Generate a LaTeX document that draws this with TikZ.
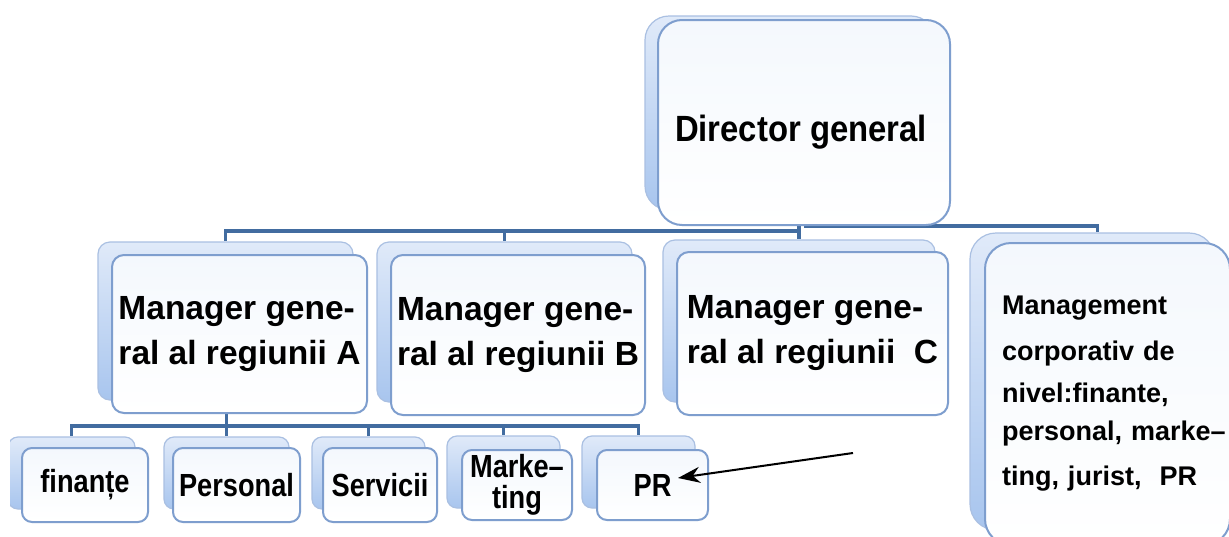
\documentclass[tikz,border=0pt]{standalone}
\usepackage{fontspec}
\setmainfont{Liberation Sans}
\newfontfamily\narrowf{Liberation Sans}[FakeStretch=0.85]
\newfontfamily\dirfont{Liberation Sans}[FakeStretch=0.9]
\usetikzlibrary{arrows.meta}
\definecolor{connc}{RGB}{66,108,160}
\definecolor{frontc}{RGB}{126,158,206}
\definecolor{backc}{RGB}{170,192,226}
\definecolor{backtop}{RGB}{224,234,249}
\definecolor{backbot}{RGB}{168,197,238}
\definecolor{fronttop}{RGB}{244,248,253}
\pgfdeclarelayer{canvas}
\pgfdeclarelayer{bg}
\pgfsetlayers{canvas,bg,main}
\tikzset{
  backbox/.style={draw=backc, line width=1.2pt, top color=backtop, bottom color=backbot, rounded corners=#1, inner sep=0pt},
  frontbox/.style={draw=frontc, line width=2pt, top color=fronttop, bottom color=white, rounded corners=#1, inner sep=0pt, text=black, align=center},
  mgr/.style={align=left, font=\bfseries\fontsize{33.5}{45}\selectfont},
  dept/.style={font=\narrowf\bfseries\fontsize{32}{31}\selectfont},
  conn/.style={draw=connc, line width=3.8pt},
  pointer/.style={draw=black, line width=2pt, -{Stealth[length=22pt,width=16pt]}}
}
\begin{document}
\begin{tikzpicture}[x=1pt,y=-1pt]
\useasboundingbox (0,0) rectangle (1229,536);
\begin{pgfonlayer}{canvas}
\fill[white] (0,0) rectangle (1229,536);
\end{pgfonlayer}
\clip (10,0) rectangle (1229,536);
% level 1
\node[backbox=24, minimum width=290pt, minimum height=194pt] (dirB) at (790,113) {};
\node[frontbox=24, minimum width=292pt, minimum height=205pt, font=\dirfont\bfseries\fontsize{36.5}{44}\selectfont] (dirF) at (804,122.5) {\raisebox{-19pt}[0pt][0pt]{Director general}\hspace{6pt}};
% level 2
\node[backbox=12, minimum width=255pt, minimum height=158pt] (Ab) at (225.5,321) {};
\node[frontbox=12, mgr, minimum width=255pt, minimum height=158pt] (Af) at (239.5,334) {Manager gene-\\ral al regiunii A};
\node[backbox=12, minimum width=255pt, minimum height=160pt] (Bb) at (504.5,322) {};
\node[frontbox=12, mgr, minimum width=254pt, minimum height=160pt] (Bf) at (518,335) {Manager gene-\\ral al regiunii B};
\node[backbox=12, minimum width=272pt, minimum height=162pt] (Cb) at (799,321) {};
\node[frontbox=12, mgr, minimum width=271pt, minimum height=163pt] (Cf) at (812.5,333.5) {Manager gene-\\ral al regiunii\ \ C};
\node[backbox=26, minimum width=245pt, minimum height=297pt] (Db) at (1092.5,381.5) {};
\node[frontbox=26, minimum width=245pt, minimum height=302pt, align=left, text width=211pt, font=\bfseries\fontsize{27}{42}\selectfont] (Df) at (1107.5,394) {Management\\[4pt]corporativ de\\nivel:finante,\\[-4pt]\mbox{personal, marke–}\\[3pt]ting, jurist,\ \ PR};
% level 3
\node[backbox=10, minimum width=127pt, minimum height=72pt] (Fb) at (71.5,473) {};
\node[frontbox=10, dept, minimum width=126pt, minimum height=74pt] (Ff) at (85,485) {finanțe};
\node[backbox=10, minimum width=125pt, minimum height=72pt] (Pb) at (226.5,473) {};
\node[frontbox=10, dept, minimum width=127pt, minimum height=74pt] (Pf) at (236.5,485) {Personal};
\node[backbox=10, minimum width=113pt, minimum height=72pt] (Sb) at (368.5,473) {};
\node[frontbox=10, dept, minimum width=114pt, minimum height=74pt] (Sf) at (380,485) {Servicii};
\node[backbox=10, minimum width=113pt, minimum height=72pt] (Mb) at (503.5,472) {};
\node[frontbox=10, dept, minimum width=110pt, minimum height=70pt] (Mf) at (517,485) {Marke–\\ting};
\node[backbox=10, minimum width=113pt, minimum height=72pt] (Rb) at (638.5,472) {};
\node[frontbox=10, dept, minimum width=111pt, minimum height=70pt] (Rf) at (652.5,485) {PR};
% connectors
\begin{pgfonlayer}{bg}
\path (Cb.north |- 0,231) coordinate (bus1);
\draw[conn] (dirF.south -| Cb.north) -- (Cb.north);
\draw[conn] (bus1) -| (Ab.north);
\draw[conn] (bus1) -| (Bb.north);
\draw[conn] (dirF.south |- 0,226) -| ([xshift=5pt]Db.north);
\draw[conn] (Af.south -| Pb.north) -- (Pb.north);
\path (Pb.north |- 0,426) coordinate (bus2);
\draw[conn] (bus2) -| (Fb.north);
\draw[conn] (bus2) -| (Sb.north);
\draw[conn] (bus2) -| (Mb.north);
\draw[conn] (bus2) -| (Rb.north);
\end{pgfonlayer}
\coordinate (arrT) at (853,453);
\draw[pointer] (arrT) -- ([xshift=-31pt,yshift=7pt]Rf.east);
\end{tikzpicture}
\end{document}
